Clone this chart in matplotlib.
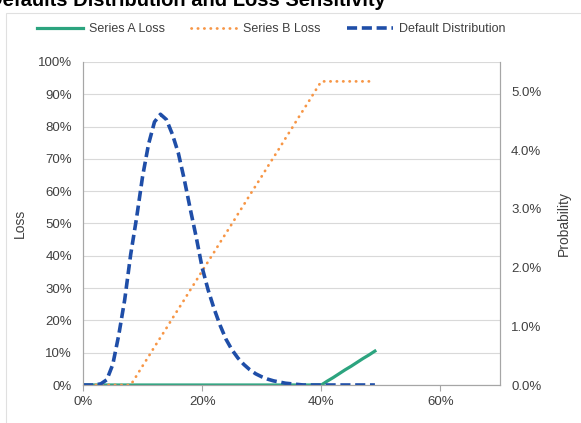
import numpy as np
import matplotlib
matplotlib.use("Agg")
import matplotlib.pyplot as plt
from matplotlib.ticker import PercentFormatter, MultipleLocator
from matplotlib.patches import Rectangle

plt.rcParams['font.family'] = ['Liberation Sans', 'DejaVu Sans']

# default rate grid (x axis)
default_rate = [0.00, 0.01, 0.02, 0.03, 0.04, 0.05, 0.06, 0.07, 0.08, 0.09,
                0.10, 0.11, 0.12, 0.13, 0.14, 0.15, 0.16, 0.17, 0.18, 0.19,
                0.20, 0.21, 0.22, 0.23, 0.24, 0.25, 0.26, 0.27, 0.28, 0.29,
                0.30, 0.31, 0.32, 0.33, 0.34, 0.35, 0.36, 0.37, 0.38, 0.39,
                0.40, 0.41, 0.42, 0.43, 0.44, 0.45, 0.46, 0.47, 0.48, 0.49]

series_a_loss = [0.0] * 41 + [0.012, 0.023, 0.035, 0.047, 0.058, 0.070, 0.082, 0.093, 0.105]

series_b_loss = [0.0, 0.0, 0.0, 0.0, 0.0, 0.0, 0.0, 0.0, 0.0, 0.029,
                 0.059, 0.088, 0.118, 0.147, 0.176, 0.206, 0.235, 0.264, 0.294, 0.323,
                 0.353, 0.382, 0.411, 0.441, 0.470, 0.499, 0.529, 0.558, 0.588, 0.617,
                 0.646, 0.676, 0.705, 0.734, 0.764, 0.793, 0.823, 0.852, 0.881, 0.911,
                 0.940, 0.940, 0.940, 0.940, 0.940, 0.940, 0.940, 0.940, 0.940, 0.940]

default_prob = [0.0, 0.0, 0.0, 0.0002, 0.0009, 0.0035, 0.0085, 0.0145, 0.0222, 0.0285,
                0.0355, 0.0410, 0.0448, 0.0461, 0.0452, 0.0427, 0.0395, 0.0350, 0.0300, 0.0252,
                0.0200, 0.0162, 0.0130, 0.0102, 0.0078, 0.0060, 0.0046, 0.0035, 0.0026, 0.0019,
                0.0014, 0.0010, 0.0007, 0.0005, 0.0003, 0.0002, 0.0001, 0.0, 0.0, 0.0,
                0.0, 0.0, 0.0, 0.0, 0.0, 0.0, 0.0, 0.0, 0.0, 0.0]

GREEN = '#2ca47f'
ORANGE = '#f79646'
BLUE = '#1f4ea8'
TXT = '#404040'
GRID = '#d9d9d9'
SPINE = '#a6a6a6'

fig = plt.figure(figsize=(5.81, 4.23), dpi=100)
fig.patches.append(Rectangle((6 / 581, -0.05), 1.0, 1 - 13 / 423 + 0.05,
                             transform=fig.transFigure, fill=False,
                             edgecolor='#e0e0e0', lw=0.8))
fig.text(386 / 581, 1 - 6 / 423, 'Defaults Distribution and Loss Sensitivity',
         ha='right', va='baseline', fontsize=14.5, fontweight='bold', color='black')

ax = fig.add_axes([83 / 581, 1 - 385 / 423, 417 / 581, 323 / 423])
ax2 = ax.twinx()

la, = ax.plot(default_rate, series_a_loss, color=GREEN, lw=2.3, label='Series A Loss')
lb, = ax.plot(default_rate, series_b_loss, color=ORANGE, lw=2.0,
              linestyle=(0, (0.1, 2.2)), dash_capstyle='round', label='Series B Loss')
lc, = ax2.plot(default_rate, default_prob, color=BLUE, lw=2.6,
               linestyle=(0, (2.8, 1.3)), label='Default Distribution')

ax.set_xlim(0, 0.7)
ax.set_ylim(0, 1.0)
ax2.set_ylim(0, 0.055)
ax.xaxis.set_major_locator(MultipleLocator(0.2))
ax.yaxis.set_major_locator(MultipleLocator(0.1))
ax2.yaxis.set_major_locator(MultipleLocator(0.01))
ax.xaxis.set_major_formatter(PercentFormatter(1.0, decimals=0))
ax.yaxis.set_major_formatter(PercentFormatter(1.0, decimals=0))
ax2.yaxis.set_major_formatter(PercentFormatter(1.0, decimals=1))

ax.grid(axis='y', color=GRID, lw=0.8)
ax.set_axisbelow(True)
for a in (ax, ax2):
    a.spines['top'].set_visible(False)
    for s in ('left', 'right', 'bottom'):
        a.spines[s].set_color(SPINE)
        a.spines[s].set_linewidth(0.8)
ax.tick_params(axis='y', length=0, labelsize=9.5, labelcolor=TXT, pad=8)
ax2.tick_params(axis='y', length=0, labelsize=9.5, labelcolor=TXT, pad=8)
ax.tick_params(axis='x', length=4, color=SPINE, labelsize=9.5, labelcolor=TXT, pad=4)

ax.set_ylabel('Loss', fontsize=10, color=TXT, labelpad=8)
ax2.set_ylabel('Probability', fontsize=10, color=TXT, labelpad=11)

fig.legend(handles=[la, lb, lc], loc='center', bbox_to_anchor=(271 / 581, 1 - 29 / 423),
           ncol=3, frameon=False, fontsize=9, handlelength=3.7,
           columnspacing=2.1, handletextpad=0.45, labelcolor=TXT)

fig.savefig('out.png', dpi=100)
